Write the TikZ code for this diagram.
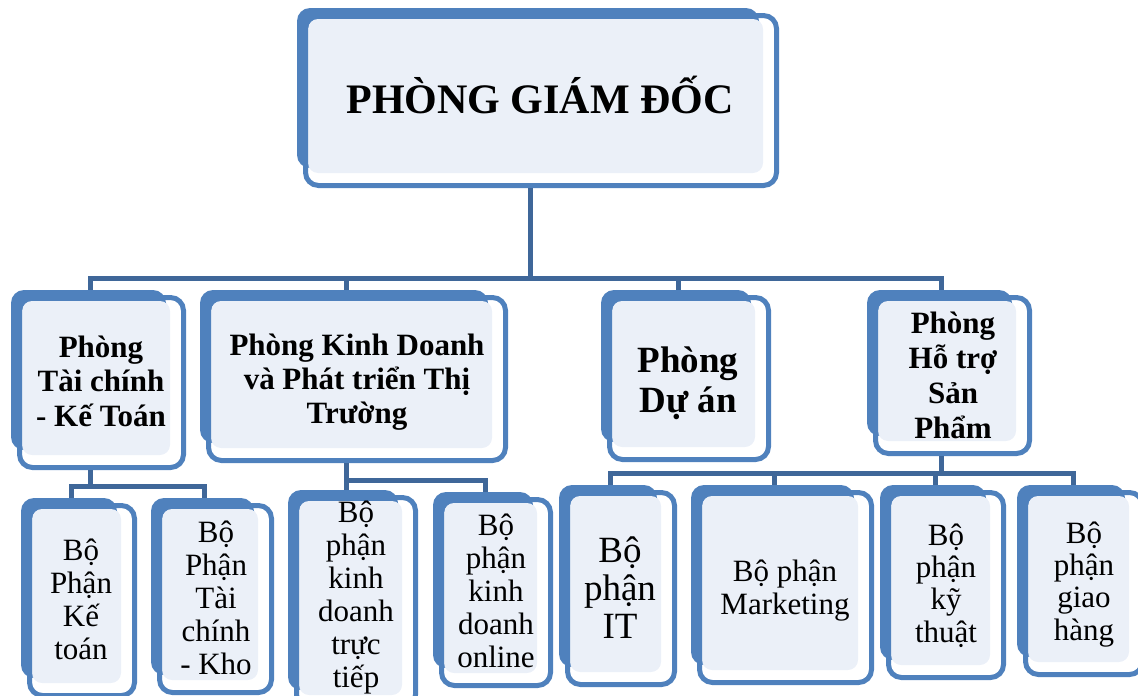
\documentclass[tikz,border=0pt]{standalone}
\usepackage{fontspec}
\setmainfont{Liberation Serif}
\usepackage{tikz}
\usetikzlibrary{fit}
\definecolor{boxblue}{HTML}{4F81BD}
\definecolor{boxfill}{HTML}{EBF0F8}
\definecolor{linkblue}{HTML}{3F6799}
\tikzstyle{orglink} = [linkblue, line width=5pt]
\tikzstyle{cardback} = [fill=boxblue, rounded corners=13pt]
\tikzstyle{cardface} = [fill=boxfill, rounded corners=10pt]
\tikzstyle{cardrim} = [draw=boxblue, line width=5pt, rounded corners=13pt]
\tikzstyle{headtxt} = [font={\bfseries\fontsize{31}{34.5}\selectfont}, align=center, anchor=base, inner sep=0pt]
\tikzstyle{subtxt} = [font={\fontsize{31}{33}\selectfont}, align=center, anchor=base, inner sep=0pt]
% one card: back corner (x0,y0), face corner (x1,y1)
\newcommand{\orgcard}[5]{%
  \fill[cardback] (#2,#3) rectangle (#4-4,#5-5);
  \fill[cardface] (#2+11,#3+11) rectangle (#4,#5);
  \draw[cardrim] (#2+8.5,#3+7.5) rectangle (#4+13.5,#5+12.5);
  \path (#2,#3) coordinate (#1-nw) (#4,#5) coordinate (#1-se);
  \node[fit=(#1-nw)(#1-se), inner sep=0pt] (#1) {};
}

\begin{document}
\begin{tikzpicture}[x=1pt,y=-1pt]
  \useasboundingbox (0,0) rectangle (1138,696);
  \clip (0,0) rectangle (1138,696);
  % cards
  \orgcard{gd}{297}{8}{763}{173}
  \orgcard{tc}{11}{290}{170}{455}
  \orgcard{kd}{200}{290}{492}{448}
  \orgcard{da}{601}{290}{755}{447}
  \orgcard{ht}{867}{290}{1016}{441}
  \orgcard{ktoan}{21}{498}{121}{683}
  \orgcard{kho}{151}{498}{258}{680}
  \orgcard{tt}{288}{490}{402}{695}
  \orgcard{onl}{433}{492}{537}{673}
  \orgcard{it}{559}{485}{661}{672}
  \orgcard{mkt}{691}{485}{858}{670}
  \orgcard{kyt}{880}{485}{990}{665}
  \orgcard{gh}{1017}{485}{1129}{662}
  % links
  \coordinate (bus0) at (0,278);
  \coordinate (bus1) at (0,486);
  \coordinate (bus2) at (0,480);
  \coordinate (bus3) at (0,473);
  \draw[orglink] ([yshift=-15pt]gd.south) -- (gd.south |- bus0);
  \draw[orglink] (tc.north) -- (tc.north |- bus0) -- (ht.north |- bus0) -- (ht.north);
  \foreach \n in {kd,da} \draw[orglink] (\n.north |- bus0) -- (\n.north);
  \draw[orglink] ([yshift=-15pt]tc.south) -- (tc.south |- bus1);
  \draw[orglink] (ktoan.north) -- (ktoan.north |- bus1) -- (kho.north |- bus1) -- (kho.north);
  \draw[orglink] ([yshift=-15pt]kd.south) -- (kd.south |- tt.north);
  \draw[orglink] (kd.south |- bus2) -- (onl.north |- bus2) -- (onl.north);
  \draw[orglink] ([yshift=-15pt]ht.south) -- (ht.south |- bus3);
  \draw[orglink] (it.north) -- (it.north |- bus3) -- (gh.north |- bus3) -- (gh.north);
  \foreach \n in {mkt,kyt} \draw[orglink] (\n.north |- bus3) -- (\n.north);
  % texts (placed at the baseline of their last line)
  \node[headtxt, font={\bfseries\fontsize{42}{46}\selectfont}] (gd-t) at (540,113) {PHÒNG GIÁM ĐỐC};
  \node[headtxt] (tc-t) at (101,426) {Phòng\\Tài chính\\- Kế Toán};
  \node[headtxt, font={\bfseries\fontsize{31}{34}\selectfont}] (kd-t) at (357,423) {Phòng Kinh Doanh\\và Phát triển Thị\\Trường};
  \node[headtxt, font={\bfseries\fontsize{37}{40}\selectfont}] (da-t) at (688,412) {Phòng\\Dự án};
  \node[headtxt, font={\bfseries\fontsize{31}{34.7}\selectfont}] (ht-t) at (953,438) {Phòng\\Hỗ trợ\\Sản\\Phẩm};
  \node[subtxt] (ktoan-t) at (81,659) {Bộ\\Phận\\Kế\\toán};
  \node[subtxt] (kho-t) at (216,674) {Bộ\\Phận\\Tài\\chính\\- Kho};
  \node[subtxt] (tt-t) at (356,687) {Bộ\\phận\\kinh\\doanh\\trực\\tiếp};
  \node[subtxt] (onl-t) at (496,667) {Bộ\\phận\\kinh\\doanh\\online};
  \node[subtxt, font={\fontsize{37}{38}\selectfont}] (it-t) at (620,638) {Bộ\\phận\\IT};
  \node[subtxt] (mkt-t) at (785,614) {Bộ phận\\Marketing};
  \node[subtxt, font={\fontsize{31}{32.3}\selectfont}] (kyt-t) at (946,642) {Bộ\\phận\\kỹ\\thuật};
  \node[subtxt, font={\fontsize{31}{32.3}\selectfont}] (gh-t) at (1084,640) {Bộ\\phận\\giao\\hàng};
\end{tikzpicture}
\end{document}
